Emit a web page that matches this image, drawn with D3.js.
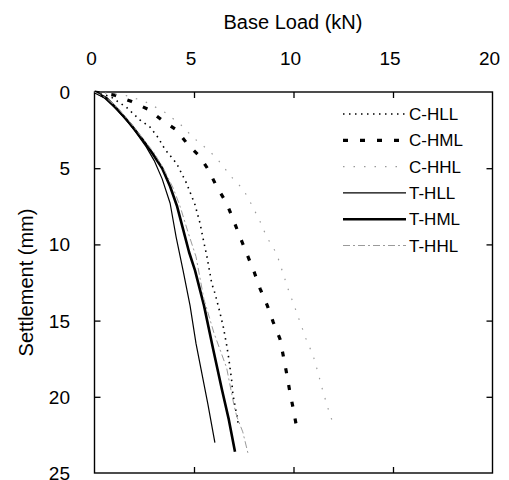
<!DOCTYPE html>
<html>
<head>
<meta charset="utf-8">
<script src="https://cdn.jsdelivr.net/npm/d3@7"></script>
<style>
    body { margin: 0; background: #fff; }
    text { font-family: Arial, "Liberation Sans", sans-serif; fill: #000; }
    .tick-label { font-size: 19px; }
    .axis-title { font-size: 20px; }
    .legend-label { font-size: 17px; }
</style>
</head>
<body>
<div id="chart"></div>
<script>
// [base load (kN), settlement (mm)]
const cHLL = [[0,0],[0.8,0.3],[1.6,1.0],[2.29,1.84],[2.79,2.3],[3.2,3.0],[3.54,3.76],[4.13,4.7],[4.63,6.0],[5.05,7.4],[5.3,8.6],[5.47,9.7],[5.65,10.8],[5.89,12.55],[6.05,13.2],[6.27,14.3],[6.47,15.4],[6.64,16.6],[6.75,17.5],[6.89,18.9],[6.95,19.8],[7.06,20.6],[7.15,21.2],[7.23,21.85]];
const cHML = [[0,0],[1,0.2],[1.87,0.63],[2.7,1.14],[3.38,1.84],[4.13,2.5],[4.71,3.48],[5.3,4.24],[5.72,5.1],[6.14,6.2],[6.64,7.3],[6.98,8.4],[7.31,9.5],[7.65,10.6],[8.02,11.8],[8.32,12.9],[8.68,14.0],[8.98,15.1],[9.32,16.2],[9.5,17.4],[9.66,18.5],[9.82,19.7],[9.99,20.8],[10.13,21.8]];
const cHHL = [[0,0],[1.5,0.2],[2.5,0.6],[3.5,1.3],[4.3,2.1],[4.97,3.0],[5.8,3.9],[6.3,4.6],[6.9,5.6],[7.48,6.4],[7.9,7.4],[8.32,8.5],[8.65,9.5],[9.15,10.6],[9.45,11.8],[9.72,12.9],[10.03,14.0],[10.33,15.1],[10.63,16.2],[10.99,17.3],[11.25,18.5],[11.47,19.6],[11.72,20.7],[12.0,21.8]];
const tHLL = [[0,0],[0.5,0.4],[1,1.0],[1.5,1.7],[2,2.5],[2.6,3.6],[3,4.5],[3.4,5.7],[3.8,7.3],[4.1,9.5],[4.45,11.7],[4.8,14],[5.1,16.5],[5.4,18.5],[5.7,20.5],[6.05,23]];
const tHML = [[0,0],[0.6,0.4],[1.2,1.2],[1.8,2.1],[2.4,3.1],[2.9,4.0],[3.4,5.0],[3.8,6.2],[4.15,7.5],[4.45,9],[4.75,10.5],[5.05,11.7],[5.5,14],[5.95,16.8],[6.4,19.5],[6.75,21.5],[7.06,23.6]];
const tHHL = [[0,0],[0.6,0.4],[1.2,1.1],[1.8,2.0],[2.4,3.0],[3,4.0],[3.5,5.1],[3.95,6.3],[4.3,7.5],[4.7,9.2],[5.1,10.8],[5.5,13.6],[6.0,15.8],[6.64,18.1],[7.0,20.5],[7.15,21.3],[7.45,22.3],[7.73,23.8]];

const seriesNames = ['C-HLL', 'C-HML', 'C-HHL', 'T-HLL', 'T-HML', 'T-HHL'];
const seriesData = [cHLL, cHML, cHHL, tHLL, tHML, tHHL];

const xTicks = [0, 5, 10, 15, 20];
const yTicks = [0, 5, 10, 15, 20, 25];

const config = {
    width: 509,
    height: 480,
    left: 94.5,
    right: 492.5,
    top: 92,
    bottom: 473,
};

// line looks, same order as seriesNames
const styles = [
    { stroke: '#000', width: 1.6, dash: '1.5,4.5' },
    { stroke: '#000', width: 3.2, dash: '5,12' },
    { stroke: '#9a9a9a', width: 1.2, dash: '1.5,9' },
    { stroke: '#000', width: 1.2, dash: null },
    { stroke: '#000', width: 2.6, dash: null },
    { stroke: '#9a9a9a', width: 1, dash: '7,3,2,3' },
];

const svg = d3.select('#chart')
    .append('svg')
    .attr('width', config.width)
    .attr('height', config.height)
;

const xScale = d3.scaleLinear()
    .domain([0, 20])
    .range([config.left, config.right])
;

const yScale = d3.scaleLinear()
    .domain([0, 25])
    .range([config.top, config.bottom])
;

// ticks pointing inward on all four sides, no labels from the axis itself
const tickLen = 6;
const plotW = config.right - config.left;
const plotH = config.bottom - config.top;

svg.append('g')
    .attr('transform', `translate(0,${config.top})`)
    .call(d3.axisBottom(xScale).tickValues(xTicks.slice(1, -1)).tickSize(tickLen).tickSizeOuter(0).tickFormat(''))
    .call(g => g.select('.domain').remove())
;
svg.append('g')
    .attr('transform', `translate(0,${config.bottom})`)
    .call(d3.axisTop(xScale).tickValues(xTicks.slice(1, -1)).tickSize(tickLen).tickSizeOuter(0).tickFormat(''))
    .call(g => g.select('.domain').remove())
;
svg.append('g')
    .attr('transform', `translate(${config.left},0)`)
    .call(d3.axisRight(yScale).tickValues(yTicks.slice(1, -1)).tickSize(tickLen).tickSizeOuter(0).tickFormat(''))
    .call(g => g.select('.domain').remove())
;
svg.append('g')
    .attr('transform', `translate(${config.right},0)`)
    .call(d3.axisLeft(yScale).tickValues(yTicks.slice(1, -1)).tickSize(tickLen).tickSizeOuter(0).tickFormat(''))
    .call(g => g.select('.domain').remove())
;
svg.selectAll('.tick line')
    .attr('stroke', '#000')
    .attr('stroke-width', 1.3)
;

// frame
svg.append('rect')
    .attr('x', config.left)
    .attr('y', config.top)
    .attr('width', plotW)
    .attr('height', plotH)
    .attr('fill', 'none')
    .attr('stroke', '#000')
    .attr('stroke-width', 1.4)
;

// tick labels
svg.selectAll('.x-label')
    .data(xTicks)
    .enter()
    .append('text')
    .attr('class', 'tick-label')
    .attr('x', d => xScale(d) - 3)
    .attr('y', 65)
    .attr('text-anchor', 'middle')
    .text(d => d)
;

svg.selectAll('.y-label')
    .data(yTicks)
    .enter()
    .append('text')
    .attr('class', 'tick-label')
    .attr('x', 70)
    .attr('y', d => yScale(d) + 7)
    .attr('text-anchor', 'end')
    .text(d => d)
;

// axis titles
svg.append('text')
    .attr('class', 'axis-title')
    .attr('x', 293)
    .attr('y', 28.5)
    .attr('text-anchor', 'middle')
    .text('Base Load (kN)')
;

svg.append('text')
    .attr('class', 'axis-title')
    .attr('transform', `translate(33,${(config.top + config.bottom) / 2}) rotate(-90)`)
    .attr('text-anchor', 'middle')
    .text('Settlement (mm)')
;

// curves
const lineGen = d3.line()
    .x(d => xScale(d[0]))
    .y(d => yScale(d[1]))
;

seriesData.forEach((data, i) => {
    svg.append('path')
        .attr('d', lineGen(data))
        .attr('fill', 'none')
        .attr('stroke', styles[i].stroke)
        .attr('stroke-width', styles[i].width)
        .attr('stroke-dasharray', styles[i].dash)
        .attr('stroke-linejoin', 'round')
    ;
});

// legend
const legend = svg.append('g');
seriesNames.forEach((name, i) => {
    let y = 114 + i * 26.3;
    legend.append('line')
        .attr('x1', 343)
        .attr('x2', 406)
        .attr('y1', y)
        .attr('y2', y)
        .attr('stroke', styles[i].stroke)
        .attr('stroke-width', styles[i].width)
        .attr('stroke-dasharray', styles[i].dash)
    ;
    legend.append('text')
        .attr('class', 'legend-label')
        .attr('x', 409)
        .attr('y', y + 6)
        .text(name)
    ;
});
</script>
</body>
</html>
